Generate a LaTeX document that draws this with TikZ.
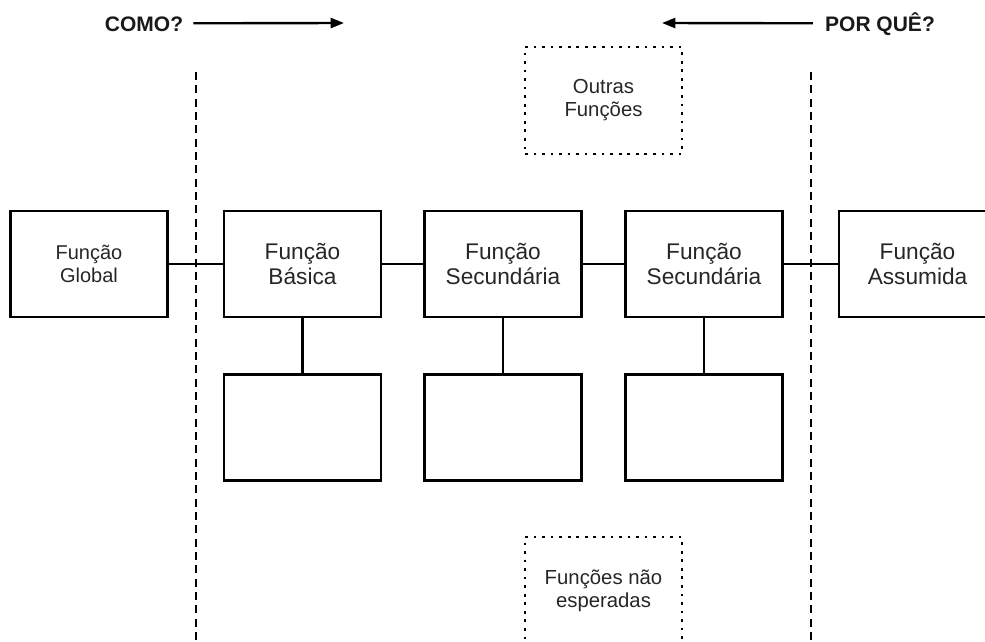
\documentclass[tikz,border=0pt]{standalone}
\usepackage{fontspec}
\setmainfont{Liberation Sans}
\usetikzlibrary{arrows.meta}
\begin{document}
\begin{tikzpicture}[x=0.75pt,y=-0.75pt,
  fbox/.style={draw=black,line width=1.9pt,minimum width=117.75pt,minimum height=79.5pt,
    inner sep=0pt,outer sep=0pt,align=center,text=black!85},
  bigtext/.style={font=\fontsize{17pt}{18.75pt}\selectfont},
  smalltext/.style={font=\fontsize{15pt}{17.25pt}\selectfont},
  dotbox/.style={draw=black,line width=2pt,dash pattern=on 2pt off 4.4pt,
    minimum width=117.75pt,minimum height=80.25pt,inner sep=0pt,outer sep=0pt,
    align=center,text=black!85,font=\fontsize{15.25pt}{17.25pt}\selectfont},
  link/.style={draw=black,line width=1.8pt},
  dashline/.style={draw=black,line width=1.8pt,dash pattern=on 6pt off 4pt},
  arrowline/.style={draw=black,line width=1.8pt,-{Triangle[length=10pt,width=7.5pt]}},
  heading/.style={font=\fontsize{15.75pt}{18pt}\selectfont\bfseries,inner sep=0pt,text=black!90}]
\useasboundingbox (0,0) rectangle (985,642);
\clip (0,0) rectangle (985,642);

% boundary lines of the studied scope
\coordinate (dlTop) at (196,72);
\coordinate (dlBot) at (196,645);
\coordinate (drTop) at (811,72);
\coordinate (drBot) at (811,645);
\draw[dashline] (dlTop) -- (dlBot);
\draw[dashline] (drTop) -- (drBot);

% headings with direction arrows
\node[heading] (como) at (144,24.5) {COMO?};
\coordinate (comoTip) at (344,23);
\draw[arrowline] ([xshift=7.5pt,yshift=0.9pt]como.east) -- (comoTip);
\node[heading] (porque) at (880,24.5) {POR QUÊ?};
\coordinate (porqueTip) at (662,23);
\draw[arrowline] ([xshift=-9pt,yshift=0.9pt]porque.west) -- (porqueTip);

% main chain of functions
\node[fbox,smalltext] (glob) at (89,264) {Função\\Global};
\node[fbox,bigtext] (bas) at (302.5,264) {Função\\Básica};
\node[fbox,bigtext] (sec1) at (503,264) {Função\\Secundária};
\node[fbox,bigtext] (sec2) at (704,264) {Função\\Secundária};
\node[fbox,bigtext] (ass) at (917.5,264) {Função\\Assumida};

% empty boxes below
\node[fbox] (low1) at (302.5,427.5) {};
\node[fbox] (low2) at (503,427.5) {};
\node[fbox] (low3) at (704,427.5) {};

% dotted boxes
\node[dotbox] (outras) at (603.5,100.5) {Outras\\Funções};
\node[dotbox] (inesp) at (603.5,590.5) {Funções não\\esperadas};

% connectors
\draw[link] (glob) -- (bas);
\draw[link] (bas) -- (sec1);
\draw[link] (sec1) -- (sec2);
\draw[link] (sec2) -- (ass);
\draw[link] (bas) -- (low1);
\draw[link] (sec1) -- (low2);
\draw[link] (sec2) -- (low3);
\end{tikzpicture}
\end{document}
